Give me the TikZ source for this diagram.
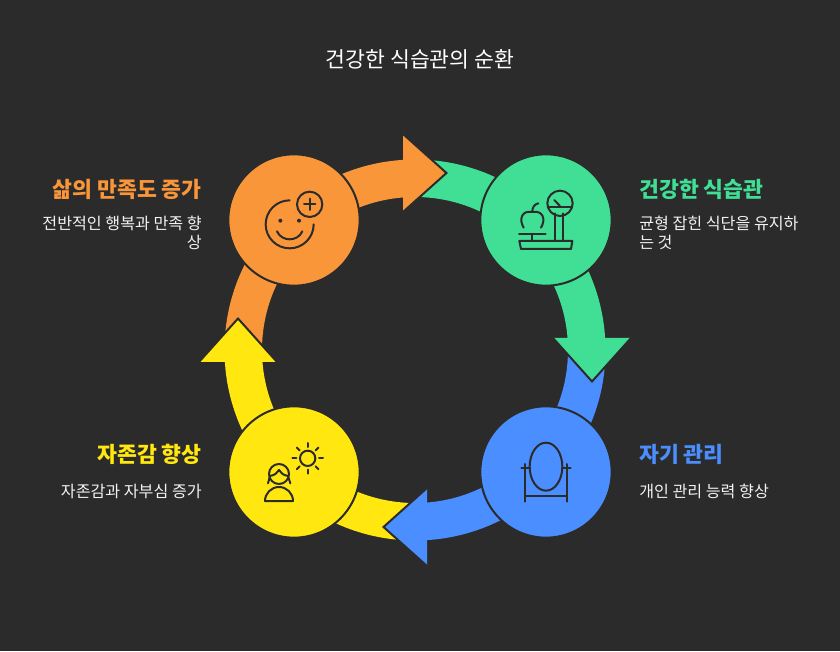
\documentclass[tikz,border=0pt]{standalone}
\usepackage{fontspec}
\setmainfont{Noto Sans CJK KR}
\usetikzlibrary{positioning}
\definecolor{board}{HTML}{2B2B2B}
\definecolor{fitorange}{HTML}{F9963A}
\definecolor{fitgreen}{HTML}{41DF95}
\definecolor{fitblue}{HTML}{4B8EFF}
\definecolor{fityellow}{HTML}{FFE70F}
\definecolor{note}{HTML}{F2F2F2}

\begin{document}
\begin{tikzpicture}[
  x=0.75pt, y=0.75pt,
  disc/.style={circle, draw=board, line width=1.5pt, minimum size=98.5pt,
               inner sep=0pt},
  icon/.style={draw=board, line width=1.5pt, line cap=round, line join=round},
  head/.style={font=\fontsize{16.2}{19}\selectfont\bfseries, inner sep=0pt},
  blurb/.style={font=\fontsize{12.1}{14.25}\selectfont, text=note, inner sep=0pt},
  tip/.style={draw=board, line width=1.5pt, line join=miter}
]
  \fill[board] (0,0) rectangle (840,651);
  \useasboundingbox (0,0) rectangle (840,651);

  \node[font=\fontsize{16.2}{19}\selectfont, text=white, inner sep=0pt] (title)
    at (420,592) {건강한 식습관의 순환};

  % bands first, then the heads over the next band
  \foreach \c/\r in {fitorange/0, fitgreen/-90, fitblue/180, fityellow/90}
    \fill[\c, shift={(415,301)}, rotate=\r]
      (181:190.5) arc[start angle=181, end angle=93, radius=190.5]
      -- (93:153) arc[start angle=93, end angle=181, radius=153] -- cycle;
  \foreach \c/\r in {fitorange/0, fitgreen/-90, fitblue/180, fityellow/90} {
    \begin{scope}[shift={(415,301)}, rotate=\r]
      \fill[\c] (-12,216) -- (31.5,177) -- (-12,138) -- cycle;
      \draw[tip] (-12,216) -- (31.5,177) -- (-12,138);
    \end{scope}
  }

  \node[disc, fill=fitorange] (joy) at (294,431) {};
  \node[disc, fill=fitgreen] (meal) at (546,431) {};
  \node[disc, fill=fitblue] (care) at (546,179) {};
  \node[disc, fill=fityellow] (pride) at (294,179) {};

  % scale and apple
  \begin{scope}[shift={(470,521)}, x=0.25pt, y=-0.25pt]
    \draw[icon] (270,220) circle (38);
    \draw[icon] (233,230) -- (306,230);
    \draw[icon] (253,210) -- (270,228);
    \draw[icon] (254,250) -- (254,333);
    \draw[icon] (280,250) -- (280,333);
    \draw[icon] (148,333) -- (307,333) -- (303,357) -- (153,357) -- cycle;
    \draw[icon] (147,311) -- (227,311);
    \draw[icon] (187,311) -- (187,333);
    \draw[icon] (161,293) .. controls (146,268) and (155,240) .. (187,246)
      .. controls (219,240) and (228,268) .. (213,293);
    \draw[icon] (187,244) .. controls (187,232) and (194,222) .. (205,220);
  \end{scope}

  % smile and plus
  \begin{scope}[shift={(220,521)}, x=0.25pt, y=-0.25pt]
    \draw[icon] (269,223) circle (38);
    \draw[icon] (252,223) -- (286,223);
    \draw[icon] (269,206) -- (269,240);
    \draw[icon] (209,211) arc[start angle=-90, end angle=-360, radius=72];
    \fill[board] (181,272) circle (6);
    \fill[board] (237,272) circle (6);
    \draw[icon] (171,304) .. controls (185,336) and (233,336) .. (247,304);
  \end{scope}

  % person and sun
  \begin{scope}[shift={(220,251)}, x=0.25pt, y=-0.25pt]
    \draw[icon] (263,175) circle (23);
    \foreach \a in {0,45,...,315}
      \draw[icon, shift={(263,175)}] (\a:34) -- (\a:46);
    \draw[icon] (177,222) circle (30);
    \draw[icon] (149,228) .. controls (165,226) and (172,218) .. (177,210)
      .. controls (182,218) and (189,226) .. (205,228);
    \draw[icon] (149,232) -- (144,250);
    \draw[icon] (205,232) -- (211,250);
    \draw[icon] (135,303) -- (219,303) arc[start angle=0, end angle=-180, radius=42] -- cycle;
  \end{scope}

  % mirror
  \begin{scope}[shift={(380,311)}, x=0.25pt, y=-0.25pt]
    \draw[icon] (498,380) ellipse (49 and 72);
    \draw[icon] (434,372) -- (434,485);
    \draw[icon] (562,372) -- (562,485);
    \draw[icon] (424,384) -- (450,384);
    \draw[icon] (546,384) -- (572,384);
    \draw[icon] (434,467) -- (562,467);
  \end{scope}

  \node[head, text=fitgreen, anchor=west] (mealhead) at (639,462) {건강한 식습관};
  \node[blurb, anchor=north west, align=left] (mealtext) at (639,435)
    {균형 잡힌 식단을 유지하\\는 것};
  \node[head, text=fitblue, anchor=west] (carehead) at (639,197) {자기 관리};
  \node[blurb, anchor=north west, align=left] (caretext) at (639,167)
    {개인 관리 능력 향상};
  \node[head, text=fityellow, anchor=east] (pridehead) at (202,197) {자존감 향상};
  \node[blurb, anchor=north east, align=right] (pridetext) at (202,167)
    {자존감과 자부심 증가};
  \node[head, text=fitorange, anchor=east] (joyhead) at (202,462) {삶의 만족도 증가};
  \node[blurb, anchor=north east, align=right] (joytext) at (202,435)
    {전반적인 행복과 만족 향\\상};
\end{tikzpicture}
\end{document}
